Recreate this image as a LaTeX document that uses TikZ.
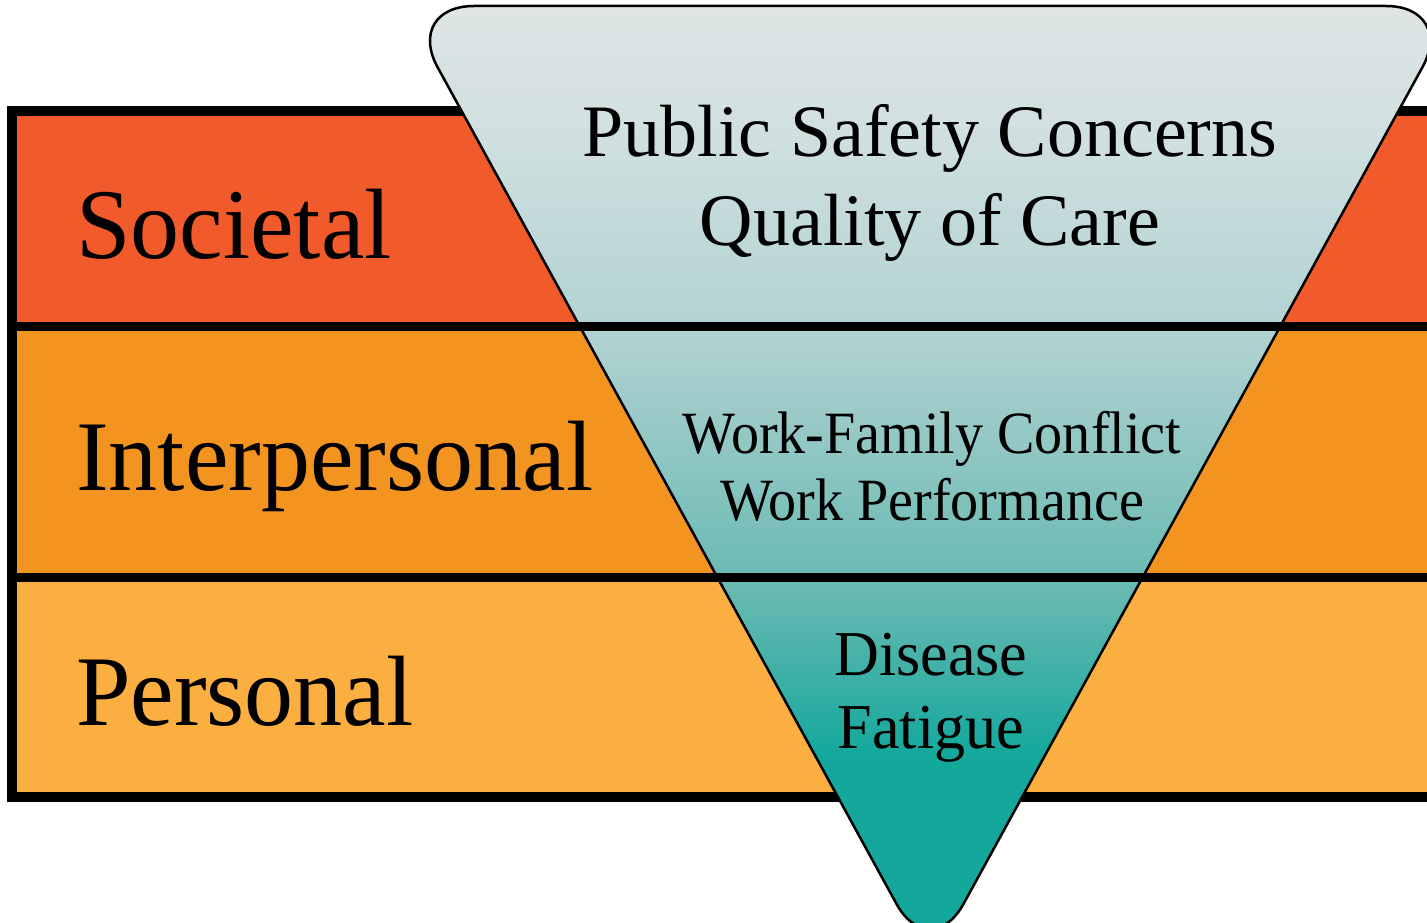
\documentclass[tikz,border=0pt]{standalone}
\usepackage{graphicx}
\usepackage{fontspec}
\setmainfont{Liberation Serif}
\definecolor{soc}{RGB}{241,90,43}
\definecolor{inter}{RGB}{243,148,32}
\definecolor{pers}{RGB}{251,175,65}
\definecolor{ga}{RGB}{223,229,229}
\definecolor{gb}{RGB}{207,223,223}
\definecolor{gc}{RGB}{178,210,210}
\definecolor{gd}{RGB}{100,184,176}
\definecolor{ge}{RGB}{20,168,157}
\pgfdeclareverticalshading{trishade}{100bp}{color(0bp)=(ge); color(36bp)=(ge); color(44bp)=(gd); color(58bp)=(gc); color(68bp)=(gb); color(75bp)=(ga); color(100bp)=(ga)}
\newcommand{\sqz}[2]{\scalebox{#1}[1]{#2}}
\tikzset{
  band/.style={line width=10pt, draw=black},
  divider/.style={line width=9pt, draw=black},
  lbl/.style={inner sep=0pt, anchor=base west, font=\fontsize{100}{110}\selectfont},
  toptxt/.style={inner sep=0pt, anchor=base, font=\fontsize{74}{80}\selectfont},
  midtxt/.style={inner sep=0pt, anchor=base, font=\fontsize{60}{66}\selectfont},
  bottxt/.style={inner sep=0pt, anchor=base, font=\fontsize{64}{70}\selectfont},
}
\begin{document}
\begin{tikzpicture}[x=1pt,y=-1pt]
\useasboundingbox (0,0) rectangle (1427,923);
% bands
\fill[soc] (12,111) rectangle (1445,326);
\fill[inter] (12,326) rectangle (1445,577);
\fill[pers] (12,577) rectangle (1445,797);
\draw[band] (12,111) rectangle (1445,797);
% triangle
\coordinate (tl) at (404,6);
\coordinate (tr) at (1456,6);
\coordinate (tip) at (930,965);
\shade[shading=trishade, draw=black, line width=2.5pt, rounded corners=70pt] (tl) -- (tr) -- (tip) -- cycle;
% dividers
\coordinate (d1l) at (12,326);
\coordinate (d1r) at (1445,326);
\coordinate (d2l) at (12,577);
\coordinate (d2r) at (1445,577);
\draw[divider] (d1l) -- (d1r);
\draw[divider] (d2l) -- (d2r);
% labels
\node[lbl] (societal) at (76,258) {\sqz{0.98}{Societal}};
\node[lbl] (interpersonal) at (76,490) {\sqz{0.98}{Interpersonal}};
\node[lbl] (personal) at (76,725) {\sqz{0.98}{Personal}};
\node[toptxt] (psc) at (930,157) {\sqz{1.0}{Public Safety Concerns}};
\node[toptxt] (qoc) at (930,245) {\sqz{1.0}{Quality of Care}};
\node[midtxt] (wfc) at (932,453) {\sqz{0.935}{Work-Family Conflict}};
\node[midtxt] (wp) at (932,520) {\sqz{0.935}{Work Performance}};
\node[bottxt] (dis) at (931,675) {\sqz{0.97}{Disease}};
\node[bottxt] (fat) at (931,748) {\sqz{0.97}{Fatigue}};
\end{tikzpicture}
\end{document}
